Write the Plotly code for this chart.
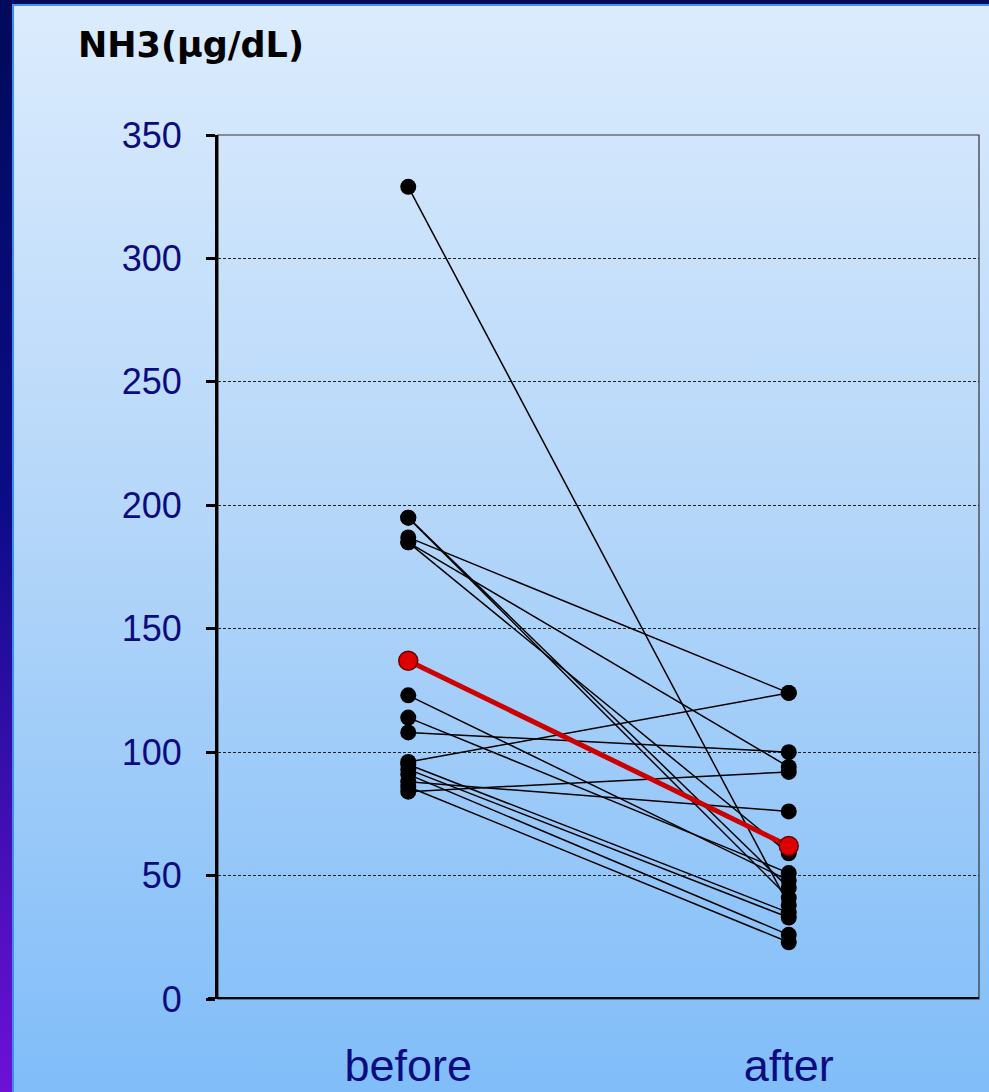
import base64
import plotly.graph_objects as go

# ---- data ----
categories = ["before", "after"]
before_vals = [329, 195, 195, 187, 185, 185, 123, 114, 108, 96, 95, 93, 91, 88, 86, 84]
after_vals = [38, 45, 41, 124, 94, 59, 48, 51, 100, 124, 35, 33, 26, 76, 23, 92]
mean_vals = [137, 62]
y_ticks = [0, 50, 100, 150, 200, 250, 300, 350]
title_text = "NH3(μg/dL)"

W, H = 989, 1092
L, R, T, B = 218, 10, 135, 93
PW, PH = W - L - R, H - T - B

fig = go.Figure()
xpos = [0, 1]
for b, a in zip(before_vals, after_vals):
    fig.add_trace(go.Scatter(
        x=xpos, y=[b, a], mode="lines+markers",
        line=dict(color="#000000", width=1.5),
        marker=dict(size=16, color="#000000", line=dict(width=0)),
        showlegend=False, hoverinfo="y"))
fig.add_trace(go.Scatter(
    x=xpos, y=mean_vals, mode="lines+markers",
    line=dict(color="#cc0000", width=5),
    marker=dict(size=19, color="#dd0000", line=dict(color="#6a0000", width=1.5)),
    showlegend=False, hoverinfo="y"))

svg = f'''<svg xmlns="http://www.w3.org/2000/svg" width="{W}" height="{H}" viewBox="0 0 {W} {H}" preserveAspectRatio="none">
<defs>
<linearGradient id="g" x1="0" y1="0" x2="0" y2="1">
<stop offset="0" stop-color="#dcecfd"/>
<stop offset="0.5" stop-color="#b2d5f9"/>
<stop offset="1" stop-color="#80bdf9"/>
</linearGradient>
<linearGradient id="b" x1="0" y1="0" x2="0" y2="1">
<stop offset="0" stop-color="#000a5c"/>
<stop offset="0.45" stop-color="#0a0c86"/>
<stop offset="1" stop-color="#6e10d6"/>
</linearGradient>
</defs>
<rect x="0" y="0" width="{W}" height="{H}" fill="url(#g)"/>
<rect x="0" y="0" width="{W}" height="4" fill="#000a5c"/>
<rect x="12" y="4" width="{W}" height="2" fill="#3f95f2"/>
<rect x="12" y="4" width="2" height="{H}" fill="#3a8cf0"/>
<rect x="0" y="0" width="12" height="{H}" fill="url(#b)"/>
</svg>'''
src = "data:image/svg+xml;base64," + base64.b64encode(svg.encode()).decode()

fig.add_layout_image(dict(
    source=src, xref="paper", yref="paper",
    x=-L / PW, y=1 + T / PH, sizex=W / PW, sizey=H / PH,
    xanchor="left", yanchor="top", sizing="stretch", layer="below"))

# thin frame on top/right
fig.add_shape(type="rect", xref="paper", yref="paper", x0=0, x1=1, y0=0, y1=1,
              line=dict(color="#333333", width=1.2), layer="below")

fig.update_layout(
    width=W, height=H,
    margin=dict(l=L, r=R, t=T, b=B, pad=0, autoexpand=False),
    paper_bgcolor="#9ccaf8", plot_bgcolor="rgba(0,0,0,0)",
    title=dict(text=title_text, x=78 / W, xanchor="left", xref="container",
               y=1 - 45 / H, yanchor="middle", yref="container", automargin=False,
               font=dict(family="DejaVu Sans", size=35, color="#000000", weight="bold")),
    xaxis=dict(range=[-0.5, 1.5], tickvals=xpos, ticktext=categories,
               showgrid=False, zeroline=False, showline=False, automargin=False,
               ticks="", ticklabelstandoff=36,
               tickfont=dict(family="Liberation Sans", size=45, color="#0c0c80")),
    yaxis=dict(range=[0, 350], tickvals=y_ticks, showgrid=True, automargin=False,
               gridcolor="#222222", gridwidth=1, griddash="3px,2px",
               zeroline=False, showline=True, linecolor="#000000", linewidth=3,
               ticks="outside", ticklen=9, tickwidth=3, tickcolor="#000000",
               ticklabelstandoff=17,
               tickfont=dict(family="Liberation Sans", size=36, color="#0c0c80")),
)
# bottom axis line (thick, extending slightly left)
fig.add_shape(type="line", xref="paper", yref="y", x0=-10 / PW, x1=1, y0=0, y1=0,
              line=dict(color="#000000", width=4), layer="above")

fig.write_html("out.html", config={"displayModeBar": False},
               post_script="document.body.style.margin='0';document.body.style.overflow='hidden';")
